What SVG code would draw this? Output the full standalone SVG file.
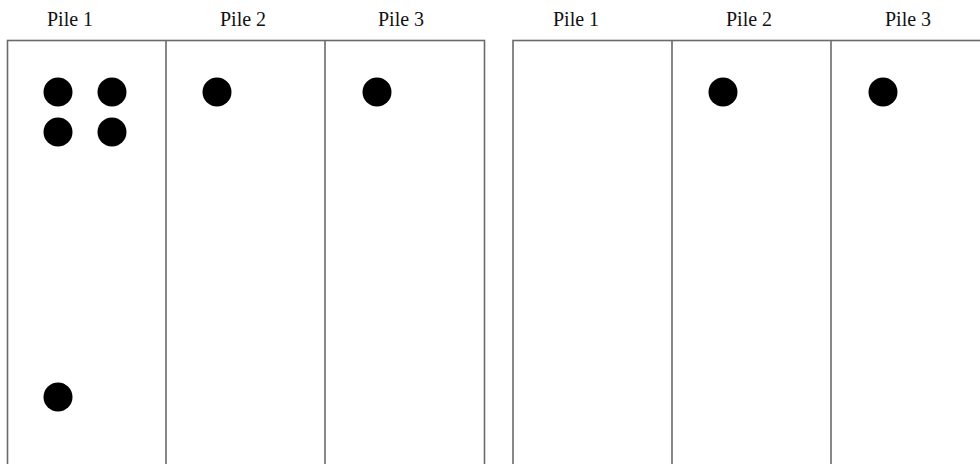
<svg xmlns="http://www.w3.org/2000/svg" width="980" height="464" viewBox="0 0 980 464">
<style>
.box{fill:none;stroke:#6a6a6a;stroke-width:1.6}
.lbl{font-family:"Liberation Serif","Times New Roman",serif;font-size:20px;fill:#111}
.dot{fill:#000}
</style>
<rect width="980" height="464" fill="#fff"/>
<g id="left-panel">
  <rect class="box" x="7.5" y="40.5" width="477" height="430"/>
  <line class="box" x1="166" y1="40.5" x2="166" y2="470"/>
  <line class="box" x1="325" y1="40.5" x2="325" y2="470"/>
  <text class="lbl" x="47" y="26">Pile 1</text>
  <text class="lbl" x="220" y="26">Pile 2</text>
  <text class="lbl" x="378" y="26">Pile 3</text>
  <circle class="dot" cx="58" cy="92" r="14.5"/>
  <circle class="dot" cx="112" cy="92" r="14.5"/>
  <circle class="dot" cx="58" cy="132" r="14.5"/>
  <circle class="dot" cx="112" cy="132" r="14.5"/>
  <circle class="dot" cx="58" cy="397" r="14.5"/>
  <circle class="dot" cx="217" cy="92" r="14.5"/>
  <circle class="dot" cx="377" cy="92" r="14.5"/>
</g>
<g id="right-panel">
  <rect class="box" x="513" y="40.5" width="477" height="430"/>
  <line class="box" x1="672" y1="40.5" x2="672" y2="470"/>
  <line class="box" x1="831" y1="40.5" x2="831" y2="470"/>
  <text class="lbl" x="553" y="26">Pile 1</text>
  <text class="lbl" x="726" y="26">Pile 2</text>
  <text class="lbl" x="885" y="26">Pile 3</text>
  <circle class="dot" cx="723" cy="92" r="14.5"/>
  <circle class="dot" cx="883" cy="92" r="14.5"/>
</g>
</svg>
